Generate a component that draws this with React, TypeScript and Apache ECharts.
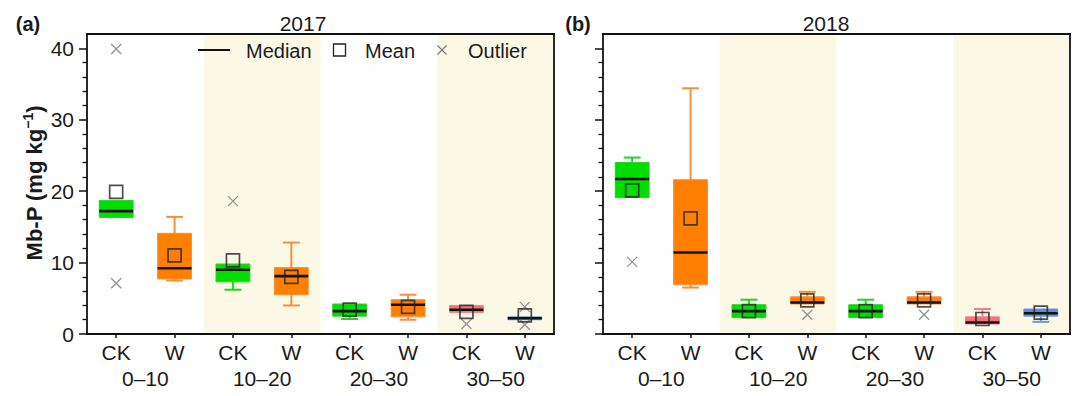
import React, { useEffect, useRef } from "react";
import * as echarts from "echarts";

// ---------- data ----------
const positions = ["CK", "W", "CK", "W", "CK", "W", "CK", "W"];
const depths = ["0–10", "10–20", "20–30", "30–50"];
const yearTitles = ["2017", "2018"];
const panelTags = ["(a)", "(b)"];
const yMajorTicks = [0, 10, 20, 30, 40];
const yMinorTicks = [2, 4, 6, 8, 12, 14, 16, 18, 22, 24, 26, 28, 32, 34, 36, 38];
const legendLabels = ["Median", "Mean", "Outlier"];
const yTitle = ["Mb-P (mg kg", "−1", ")"];

// [min, Q1, median, Q3, max]
const stats2017 = [
  [16.3, 16.3, 17.2, 18.7, 18.7],
  [7.5, 7.7, 9.2, 14.1, 16.4],
  [6.2, 7.3, 9.0, 9.8, 9.8],
  [4.0, 5.5, 8.1, 9.3, 12.8],
  [2.1, 2.5, 3.2, 4.2, 4.2],
  [2.0, 2.4, 4.1, 4.8, 5.5],
  [3.0, 3.0, 3.4, 4.0, 4.0],
  [2.0, 2.0, 2.2, 2.4, 2.4],
];
const means2017 = [19.9, 11.0, 10.3, 8.0, 3.4, 3.8, 3.1, 2.6];
const outliers2017 = [
  [0, 39.9],
  [0, 7.1],
  [2, 18.6],
  [6, 1.4],
  [7, 3.8],
  [7, 1.3],
];

const stats2018 = [
  [19.1, 19.1, 21.7, 24.0, 24.7],
  [6.5, 6.9, 11.4, 21.6, 34.4],
  [2.3, 2.3, 3.2, 4.1, 4.8],
  [4.2, 4.2, 4.4, 5.2, 5.9],
  [2.3, 2.3, 3.2, 4.1, 4.8],
  [4.2, 4.2, 4.4, 5.2, 5.9],
  [1.4, 1.4, 1.6, 2.4, 3.5],
  [1.7, 2.5, 2.9, 3.5, 3.5],
];
const means2018 = [20.1, 16.2, 3.2, 4.7, 3.2, 4.7, 2.1, 3.0];
const outliers2018 = [
  [0, 10.1],
  [3, 2.7],
  [5, 2.7],
];

// ---------- styles ----------
const boxFill = ["#00dd00", "#ff8000", "#00dd00", "#ff8000", "#00dd00", "#ff8000", "#f4707a", "#5b8fd0"];
const whiskerColor = ["#2ad02a", "#f39040", "#2ad02a", "#f39040", "#2ad02a", "#f39040", "#f08585", "#6a9ad6"];
const FONT = "Liberation Sans, Arial, Helvetica, sans-serif";
const TXT = "#1a1a1a";
const AX = "#111";
const BAND = "#fbf9e6";

function renderBox(params: any, api: any) {
  const i = api.value(0);
  const mn = api.value(1);
  const q1 = api.value(2);
  const md = api.value(3);
  const q3 = api.value(4);
  const mx = api.value(5);
  const cx = api.coord([i, md])[0];
  const yOf = (v: number) => api.coord([i, v])[1];
  const band = api.size([1, 0])[0];
  const bw = band * 0.58;
  const cw = bw * 0.5;
  const wc = whiskerColor[i];
  const children: any[] = [];
  if (mx > q3) {
    children.push({ type: "line", shape: { x1: cx, y1: yOf(q3), x2: cx, y2: yOf(mx) }, style: { stroke: wc, lineWidth: 2 } });
    children.push({ type: "line", shape: { x1: cx - cw / 2, y1: yOf(mx), x2: cx + cw / 2, y2: yOf(mx) }, style: { stroke: wc, lineWidth: 2 } });
  }
  if (mn < q1) {
    children.push({ type: "line", shape: { x1: cx, y1: yOf(q1), x2: cx, y2: yOf(mn) }, style: { stroke: wc, lineWidth: 2 } });
    children.push({ type: "line", shape: { x1: cx - cw / 2, y1: yOf(mn), x2: cx + cw / 2, y2: yOf(mn) }, style: { stroke: wc, lineWidth: 2 } });
  }
  const top = yOf(q3);
  const bot = yOf(q1);
  children.push({
    type: "rect",
    shape: { x: cx - bw / 2, y: top, width: bw, height: Math.max(bot - top, 1.5) },
    style: { fill: boxFill[i], stroke: whiskerColor[i], lineWidth: 1 },
  });
  children.push({ type: "line", shape: { x1: cx - bw / 2, y1: yOf(md), x2: cx + bw / 2, y2: yOf(md) }, style: { stroke: "#111", lineWidth: 2.6 } });
  return { type: "group", children };
}

const GRIDS = [
  { left: 87, top: 34, width: 467, height: 300 },
  { left: 603, top: 34, width: 467, height: 300 },
];

function txt(text: string, x: number, y: number, size: number, bold: boolean, align: string) {
  return {
    type: "text",
    x,
    y,
    z: 100,
    style: {
      text,
      fontSize: size,
      fontWeight: bold ? "bold" : "normal",
      fontFamily: FONT,
      fill: TXT,
      align,
      verticalAlign: "middle",
    },
  };
}

function buildOption() {
  const xAxis: any[] = [];
  const yAxis: any[] = [];
  const series: any[] = [];
  const allStats = [stats2017, stats2018];
  const allMeans = [means2017, means2018];
  const allOut = [outliers2017, outliers2018];

  GRIDS.forEach((_, g) => {
    xAxis.push({
      type: "category",
      gridIndex: g,
      position: "bottom",
      data: positions,
      boundaryGap: true,
      axisLine: { show: true, lineStyle: { color: AX, width: 1.8 } },
      axisTick: { show: true, alignWithLabel: true, length: 4, lineStyle: { color: AX, width: 1.5 } },
      axisLabel: { color: TXT, fontSize: 21, fontFamily: FONT, margin: 8, interval: 0 },
      splitLine: { show: false },
    });
    xAxis.push({
      type: "category",
      gridIndex: g,
      position: "bottom",
      offset: 26,
      data: depths,
      boundaryGap: true,
      axisLine: { show: false },
      axisTick: { show: false },
      axisLabel: { color: TXT, fontSize: 21, fontFamily: FONT, margin: 8, interval: 0 },
      splitLine: { show: false },
      splitArea: { show: true, interval: 0, areaStyle: { color: ["rgba(255,255,255,0)", BAND] } },
    });
    xAxis.push({
      type: "value",
      gridIndex: g,
      position: "top",
      min: 0,
      max: 1,
      axisLine: { show: true, onZero: false, lineStyle: { color: AX, width: 1.8 } },
      axisTick: { show: false },
      axisLabel: { show: false },
      splitLine: { show: false },
    });
    yAxis.push({
      type: "value",
      gridIndex: g,
      position: "left",
      min: 0,
      max: 42,
      axisLine: { show: true, onZero: false, lineStyle: { color: AX, width: 1.8 } },
      axisTick: { show: true, customValues: yMajorTicks, length: 8, lineStyle: { color: AX, width: 1.5 } },
      axisLabel: {
        show: g === 0,
        customValues: yMajorTicks,
        color: TXT,
        fontSize: 21,
        fontFamily: FONT,
        margin: 13,
      },
      splitLine: { show: false },
    });
    yAxis.push({
      type: "value",
      gridIndex: g,
      position: "left",
      min: 0,
      max: 42,
      axisLine: { show: false },
      axisTick: { show: true, customValues: yMinorTicks, length: 4.5, lineStyle: { color: AX, width: 1.3 } },
      axisLabel: { show: false },
      splitLine: { show: false },
    });
    yAxis.push({
      type: "value",
      gridIndex: g,
      position: "right",
      min: 0,
      max: 42,
      axisLine: { show: true, onZero: false, lineStyle: { color: AX, width: 1.8 } },
      axisTick: { show: false },
      axisLabel: { show: false },
      splitLine: { show: false },
    });

    const xi = g * 3;
    const yi = g * 3;
    series.push({
      type: "custom",
      xAxisIndex: xi,
      yAxisIndex: yi,
      renderItem: renderBox,
      encode: { x: 0, y: [1, 2, 3, 4, 5] },
      data: allStats[g].map((s, i) => [i, ...s]),
      z: 3,
    });
    series.push({
      type: "scatter",
      xAxisIndex: xi,
      yAxisIndex: yi,
      symbol: "rect",
      symbolSize: 13,
      itemStyle: { color: "rgba(0,0,0,0)", borderColor: "#222", borderWidth: 1.7 },
      data: allMeans[g].map((m, i) => [i, m]),
      z: 5,
    });
    series.push({
      type: "scatter",
      xAxisIndex: xi,
      yAxisIndex: yi,
      symbol: "path://M0,0L10,10M10,0L0,10",
      symbolSize: 10,
      itemStyle: { color: "rgba(0,0,0,0)", borderColor: "#777", borderWidth: 1.3 },
      data: allOut[g],
      z: 4,
    });
  });

  const graphic: any[] = [
    txt(panelTags[0], 28, 24, 20, true, "center"),
    txt(panelTags[1], 578, 24, 20, true, "center"),
    txt(yearTitles[0], 303, 23, 21, false, "center"),
    txt(yearTitles[1], 826, 23, 21, false, "center"),
    {
      type: "text",
      x: 34,
      y: 183,
      z: 100,
      rotation: Math.PI / 2,
      style: {
        text: `{a|${yTitle[0]}}{s|${yTitle[1]}}{a|${yTitle[2]}}`,
        align: "center",
        verticalAlign: "middle",
        rich: {
          a: { fontSize: 22, fontWeight: "bold", fontFamily: FONT, fill: TXT, lineHeight: 26 },
          s: { fontSize: 14, fontWeight: "bold", fontFamily: FONT, fill: TXT, lineHeight: 14, verticalAlign: "top" },
        },
      },
    },
    { type: "line", z: 100, shape: { x1: 198, y1: 50, x2: 230, y2: 50 }, style: { stroke: "#111", lineWidth: 2 } },
    txt(legendLabels[0], 246, 51, 20, false, "left"),
    { type: "rect", z: 100, shape: { x: 333.5, y: 44, width: 12, height: 12 }, style: { fill: "none", stroke: "#222", lineWidth: 1.3 } },
    txt(legendLabels[1], 365, 51, 20, false, "left"),
    { type: "line", z: 100, shape: { x1: 437.5, y1: 45.5, x2: 446.5, y2: 54.5 }, style: { stroke: "#777", lineWidth: 1.1 } },
    { type: "line", z: 100, shape: { x1: 446.5, y1: 45.5, x2: 437.5, y2: 54.5 }, style: { stroke: "#777", lineWidth: 1.1 } },
    txt(legendLabels[2], 468, 51, 20, false, "left"),
  ];

  return {
    animation: false,
    backgroundColor: "#ffffff",
    textStyle: { fontFamily: FONT },
    grid: GRIDS.map((g) => ({ ...g, containLabel: false })),
    xAxis,
    yAxis,
    series,
    graphic,
  };
}

export default function App() {
  const ref = useRef<HTMLDivElement>(null);
  useEffect(() => {
    if (!ref.current) return;
    const chart = echarts.init(ref.current, undefined, { renderer: "svg" });
    chart.setOption(buildOption() as any);
    return () => chart.dispose();
  }, []);
  return (
    <div
      ref={ref}
      style={{ position: "fixed", left: 0, top: 0, width: 1080, height: 396, background: "#fff" }}
    />
  );
}
